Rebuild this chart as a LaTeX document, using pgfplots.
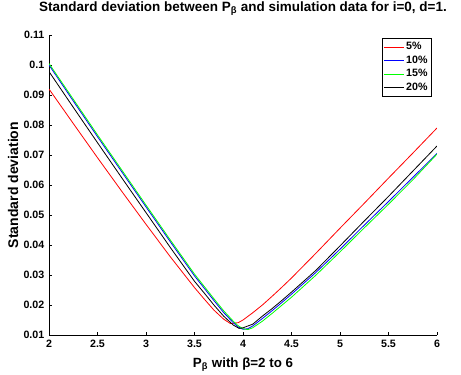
\documentclass[border=0pt]{standalone}
\usepackage{fontspec}
\setmainfont{Liberation Sans}
\usepackage{pgfplots}
\pgfplotsset{compat=1.18}
\begin{document}
\begin{tikzpicture}
\begin{axis}[
 scale only axis, width=291pt, height=225pt,
 xmin=2, xmax=6, ymin=0.01, ymax=0.11,
 axis x line*=bottom, axis y line*=left,
 axis line style={-, line width=0.6pt},
 tick align=inside, major tick length=2.5pt,
 tick style={line width=0.5pt, black},
 xtick={2,2.5,3,3.5,4,4.5,5,5.5,6},
 ytick={0.01,0.02,0.03,0.04,0.05,0.06,0.07,0.08,0.09,0.1,0.11},
 scaled y ticks=false,
 yticklabel style={/pgf/number format/fixed,/pgf/number format/precision=2},
 /pgf/number format/assume math mode=true,
 tick label style={font=\bfseries\fontsize{8}{9.6}\selectfont},
 title={Standard deviation between P\textsubscript{β} and simulation data for i=0, d=1.},
 title style={at={(axis description cs:0.5,1.0533)}, anchor=base, font=\bfseries\fontsize{10.1}{12}\selectfont},
 xlabel={P\textsubscript{β} with β=2 to 6},
 xlabel style={at={(axis description cs:0.5,-0.1067)}, anchor=base, font=\bfseries\fontsize{10}{12}\selectfont},
 ylabel={Standard deviation},
 ylabel style={at={(axis description cs:-0.0799,0.5)}, anchor=base, font=\bfseries\fontsize{10.5}{12}\selectfont},
 legend style={at={(axis description cs:0.985,0.99)}, anchor=north east, draw=black, line width=0.5pt,
   font=\bfseries\fontsize{8}{9.6}\selectfont, inner xsep=1.5pt, inner ysep=1pt, row sep=-1pt,
   nodes={inner xsep=1pt}},
 legend cell align=left,
 legend image code/.code={\draw[#1] (0pt,0pt) -- (15pt,0pt);},
 every axis plot/.append style={line width=0.6pt},
]
\addplot[red] coordinates {
(2.00,0.0920) (2.25,0.0805) (2.50,0.0691) (2.75,0.0579) (3.00,0.0469) (3.25,0.0361)
(3.50,0.0258) (3.60,0.0220) (3.70,0.0183) (3.80,0.0153) (3.87,0.0138) (3.95,0.0141)
(4.00,0.0150) (4.10,0.0174) (4.20,0.0200) (4.30,0.0229) (4.40,0.0259) (4.50,0.0290)
(4.75,0.0372) (5.00,0.0456) (5.25,0.0539) (5.50,0.0623) (5.75,0.0706) (6.00,0.0790)};
\addlegendentry{5\%}
\addplot[blue] coordinates {
(2.00,0.1000) (2.25,0.0880) (2.50,0.0761) (2.75,0.0644) (3.00,0.0527) (3.25,0.0411)
(3.50,0.0297) (3.60,0.0256) (3.70,0.0215) (3.80,0.0175) (3.90,0.0141) (3.95,0.0127)
(4.00,0.0119) (4.05,0.0121) (4.10,0.0130) (4.20,0.0155) (4.30,0.0181) (4.40,0.0208)
(4.50,0.0236) (4.75,0.0308) (5.00,0.0386) (5.25,0.0466) (5.50,0.0545) (5.75,0.0625) (6.00,0.0705)};
\addlegendentry{10\%}
\addplot[green] coordinates {
(2.00,0.1005) (2.25,0.0886) (2.50,0.0767) (2.75,0.0650) (3.00,0.0533) (3.25,0.0417)
(3.50,0.0303) (3.60,0.0262) (3.70,0.0221) (3.80,0.0181) (3.90,0.0146) (3.95,0.0131)
(4.00,0.0121) (4.05,0.0118) (4.10,0.0124) (4.20,0.0146) (4.30,0.0172) (4.40,0.0199)
(4.50,0.0226) (4.75,0.0299) (5.00,0.0377) (5.25,0.0457) (5.50,0.0536) (5.75,0.0617) (6.00,0.0703)};
\addlegendentry{15\%}
\addplot[black] coordinates {
(2.00,0.0978) (2.25,0.0859) (2.50,0.0741) (2.75,0.0624) (3.00,0.0508) (3.25,0.0392)
(3.50,0.0279) (3.60,0.0240) (3.70,0.0200) (3.80,0.0163) (3.90,0.0133) (3.96,0.0122)
(4.00,0.0124) (4.10,0.0136) (4.20,0.0163) (4.30,0.0188) (4.40,0.0215) (4.50,0.0243)
(4.75,0.0315) (5.00,0.0397) (5.25,0.0480) (5.50,0.0562) (5.75,0.0646) (6.00,0.0730)};
\addlegendentry{20\%}
\coordinate (O) at (rel axis cs:0,0);
\end{axis}
\pgfresetboundingbox
\path ([shift={(-36.75pt,-30pt)}]O) rectangle ++(345.75pt,281.25pt);
\end{tikzpicture}
\end{document}
